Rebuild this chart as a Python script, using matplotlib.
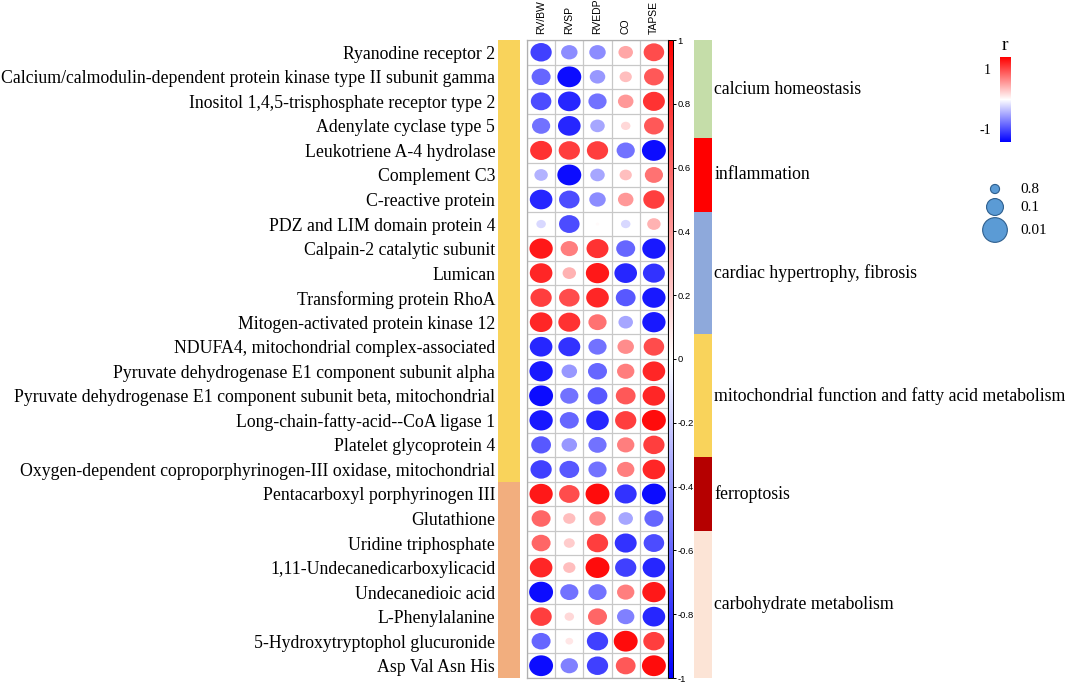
import numpy as np
import matplotlib
matplotlib.use('Agg')
import matplotlib.pyplot as plt
from matplotlib.colors import LinearSegmentedColormap, Normalize
from matplotlib.patches import Ellipse, Rectangle
from matplotlib.colorbar import ColorbarBase

# dados
variaveis = ['RV/BW', 'RVSP', 'RVEDP', 'CO', 'TAPSE']
moleculas = ['Ryanodine receptor 2',
    'Calcium/calmodulin-dependent protein kinase type II subunit gamma',
    'Inositol 1,4,5-trisphosphate receptor type 2',
    'Adenylate cyclase type 5',
    'Leukotriene A-4 hydrolase',
    'Complement C3',
    'C-reactive protein',
    'PDZ and LIM domain protein 4',
    'Calpain-2 catalytic subunit',
    'Lumican',
    'Transforming protein RhoA',
    'Mitogen-activated protein kinase 12',
    'NDUFA4, mitochondrial complex-associated',
    'Pyruvate dehydrogenase E1 component subunit alpha',
    'Pyruvate dehydrogenase E1 component subunit beta, mitochondrial',
    'Long-chain-fatty-acid--CoA ligase 1',
    'Platelet glycoprotein 4',
    'Oxygen-dependent coproporphyrinogen-III oxidase, mitochondrial',
    'Pentacarboxyl porphyrinogen III',
    'Glutathione',
    'Uridine triphosphate',
    '1,11-Undecanedicarboxylicacid',
    'Undecanedioic acid',
    'L-Phenylalanine',
    '5-Hydroxytryptophol glucuronide',
    'Asp Val Asn His']

r_valores = [[-0.75, -0.45, -0.45, 0.35, 0.70],
    [-0.60, -0.95, -0.40, 0.25, 0.65],
    [-0.70, -0.85, -0.55, 0.40, 0.80],
    [-0.55, -0.85, -0.35, 0.15, 0.65],
    [0.80, 0.75, 0.75, -0.55, -0.95],
    [-0.30, -0.95, -0.35, 0.25, 0.55],
    [-0.85, -0.70, -0.45, 0.40, 0.75],
    [-0.15, -0.70, 0.02, -0.15, 0.30],
    [0.90, 0.50, 0.80, -0.60, -0.90],
    [0.85, 0.30, 0.90, -0.85, -0.80],
    [0.75, 0.70, 0.85, -0.65, -0.90],
    [0.85, 0.80, 0.55, -0.35, -0.90],
    [-0.85, -0.80, -0.55, 0.45, 0.70],
    [-0.90, -0.40, -0.60, 0.50, 0.85],
    [-0.95, -0.55, -0.65, 0.65, 0.85],
    [-0.90, -0.60, -0.85, 0.75, 0.95],
    [-0.65, -0.40, -0.55, 0.50, 0.75],
    [-0.75, -0.65, -0.55, 0.50, 0.85],
    [0.90, 0.70, 0.95, -0.80, -0.95],
    [0.60, 0.25, 0.45, -0.35, -0.60],
    [0.60, 0.20, 0.75, -0.80, -0.70],
    [0.85, 0.25, 0.95, -0.75, -0.85],
    [-0.95, -0.55, -0.55, 0.50, 0.90],
    [0.75, 0.15, 0.60, -0.50, -0.85],
    [-0.60, 0.10, -0.75, 0.95, 0.75],
    [-0.95, -0.50, -0.75, 0.65, 0.95]]

# grupos (faixa da esquerda)
grupos_esq = [18, 8]
cores_esq = ['#F9D35B', '#F2AE7E']

# categorias (faixa da direita)
categorias = ['calcium homeostasis', 'inflammation', 'cardiac hypertrophy, fibrosis',
              'mitochondrial function and fatty acid metabolism', 'ferroptosis',
              'carbohydrate metabolism']
n_categorias = [4, 3, 5, 5, 3, 6]
cores_cat = ['#C5DDA9', '#FF0000', '#8EA9DB', '#F9D35B', '#B50000', '#FCE4D6']

legenda_p = ['0.8', '0.1', '0.01']
legenda_tam = [0.35, 0.65, 0.95]

df = np.array(r_valores)
nlin, ncol = df.shape

W, H = 1072, 688
fig = plt.figure(figsize=(W / 100, H / 100), dpi=100)

def eixo(x0, y0, x1, y1):
    # recebe coordenadas em pixels (origem em cima)
    return fig.add_axes([x0 / W, 1 - y1 / H, (x1 - x0) / W, (y1 - y0) / H])

cmap = LinearSegmentedColormap.from_list('br', ['#0000FF', '#FFFFFF', '#FF0000'])
norm = Normalize(-1, 1)

topo, base = 40, 678
fonte_rot = 12.8

# grade principal
ax = eixo(527, topo, 668, base)
ax.set_xlim(0, ncol)
ax.set_ylim(nlin, 0)
for i in range(nlin):
    for j in range(ncol):
        r = df[i, j]
        d = 0.87 * np.sqrt(abs(r))
        ax.add_patch(Ellipse((j + 0.5, i + 0.5), d, d, facecolor=cmap(norm(r)),
                             edgecolor='none'))
for k in range(ncol + 1):
    ax.axvline(k, color='#C8C8C8', lw=0.9)
for k in range(nlin + 1):
    ax.axhline(k, color='#C8C8C8', lw=0.9)
ax.set_xticks([])
ax.set_yticks([])
for s in ax.spines.values():
    s.set_color('#B0B0B0')
    s.set_linewidth(0.9)
for j, v in enumerate(variaveis):
    ax.text(j + 0.5, -0.25, v, rotation=90, ha='center', va='bottom',
            fontsize=7.5, family='Liberation Sans')

# barra de cores do meio
cax = eixo(668, topo, 673, base)
cb = ColorbarBase(cax, cmap=cmap, norm=norm, orientation='vertical')
cb.set_ticks([-1, -0.8, -0.6, -0.4, -0.2, 0, 0.2, 0.4, 0.6, 0.8, 1])
cb.set_ticklabels(['-1', '-0.8', '-0.6', '-0.4', '-0.2', '0', '0.2', '0.4', '0.6', '0.8', '1'])
cax.tick_params(labelsize=6.8, length=2.5, width=0.7, pad=0.5)
for t in cax.get_yticklabels():
    t.set_family('Liberation Sans')
cb.outline.set_linewidth(0.7)

# faixa da esquerda com os nomes
axl = eixo(498, topo, 520, base)
axl.set_xlim(0, 1)
axl.set_ylim(nlin, 0)
ini = 0
for n, c in zip(grupos_esq, cores_esq):
    axl.add_patch(Rectangle((0, ini), 1, n, facecolor=c, edgecolor='none'))
    ini += n
axl.set_xticks([])
axl.set_yticks(np.arange(nlin) + 0.5)
axl.set_yticklabels(moleculas, fontsize=fonte_rot, family='Liberation Serif')
axl.tick_params(length=0, pad=2)
for s in axl.spines.values():
    s.set_visible(False)

# faixa da direita com as categorias
axr = eixo(694, topo, 712, base)
axr.set_xlim(0, 1)
axr.set_ylim(nlin, 0)
ini = 0
for nome, n, c in zip(categorias, n_categorias, cores_cat):
    axr.add_patch(Rectangle((0, ini), 1, n, facecolor=c, edgecolor='none'))
    axr.text(1.12, ini + n / 2, nome, va='center', ha='left', fontsize=fonte_rot,
             family='Liberation Serif')
    ini += n
axr.axis('off')

# legenda r
lax = eixo(1000, 57, 1011, 142)
ColorbarBase(lax, cmap=cmap, norm=norm, orientation='vertical').outline.set_visible(False)
lax.set_yticks([])
fig.text(1005 / W, 1 - 46 / H, 'r', ha='center', va='center', fontsize=14,
         family='Liberation Serif')
fig.text(991 / W, 1 - 70 / H, '1', ha='right', va='center', fontsize=10,
         family='Liberation Serif')
fig.text(991 / W, 1 - 130 / H, '-1', ha='right', va='center', fontsize=10,
         family='Liberation Serif')

# legenda de tamanho
sax = eixo(970, 175, 1072, 245)
sax.set_xlim(0, 102)
sax.set_ylim(70, 0)
sax.set_aspect('equal')
ys = [14, 32, 55]
for y, t, lab in zip(ys, legenda_tam, legenda_p):
    d = 26 * t
    sax.add_patch(Ellipse((25, y), d, d, facecolor='#5B9BD5', edgecolor='#2E5F8E', lw=0.8))
    sax.text(50, y, lab, va='center', ha='left', fontsize=11, family='Liberation Serif')
sax.axis('off')

fig.savefig('out.png', dpi=100)
